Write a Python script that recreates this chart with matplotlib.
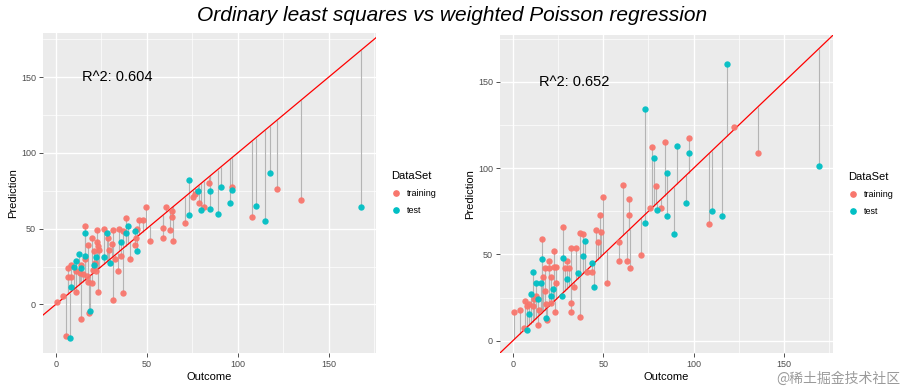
import numpy as np
import matplotlib.pyplot as plt
from matplotlib.lines import Line2D

plt.rcParams['font.family'] = ['Liberation Sans', 'DejaVu Sans']

RED = '#F8766D'
TEAL = '#00BFC4'

# Ordinary least squares (left panel)
ols_train_x = [0.9, 3.9, 5.9, 6.8, 6.8, 8.6, 8.6, 11, 11.4, 13.2, 13.8, 14, 15, 16, 16, 17,
               17.8, 17.8, 18.4, 19.9, 19.9, 20.6, 21, 21.5, 22.8, 22.8, 23, 23, 22.4, 23.9,
               26.7, 28.9, 29.4, 31, 31.6, 31.6, 32.5, 34, 35, 36, 36.8, 37, 38.6, 41, 43.8,
               44, 44.8, 46, 48, 49.6, 51.8, 58.8, 58.8, 60.7, 63, 63.8, 63.8, 64.7, 70.8,
               75.7, 76.6, 78.9, 81.6, 84, 96.7, 108, 121.7, 135]
ols_train_pred = [1.3, 5.7, -20.6, 24, 17.8, 17.8, 26, 7.9, 22, 21, -9.6, 26, 20, 52, 30, 19,
                  39, 15, -5.7, 14, 44, 23, 35, 27.6, 49, 41, 38.6, 8.3, 22, 36,
                  50, 44, 36, 40, 49, 3, 30, 22, 50, 32, 7.7, 48.7, 57, 30, 39,
                  44, 50, 56, 56, 64, 41.7, 50.4, 44, 64, 49, 61.6, 58, 42, 54,
                  71, 72.6, 67, 64, 80, 77.6, 58, 76, 69]
ols_test_x = [7.7, 8.6, 9.9, 11, 12.9, 14, 16, 16, 18.8, 21, 21.9, 26.8, 28, 29.8, 35.8, 38.6,
              39.9, 43.8, 44.5, 73, 73, 78, 80, 85, 85, 89, 91, 96, 96.7, 110, 115, 118, 168]
ols_test_pred = [-22, 11.6, 24.8, 28.7, 33.3, 24.3, 47, 32, -4.4, 26, 31.4, 31, 47, 27.6, 41, 47,
                 52, 48.7, 35.3, 82, 59, 75, 62, 74.6, 63, 60, 77.6, 67, 75.7, 65, 55, 87, 64.5]

# Weighted Poisson regression (right panel)
pois_train_x = [1, 4, 6, 7, 7.7, 9, 11, 12, 13, 13.8, 14.8, 16, 17, 18, 18, 18.5, 18.8, 20,
                20.3, 21, 21.4, 23, 23, 23.2, 24, 24, 28, 29, 30, 31, 32, 32, 32, 34, 35, 37,
                37, 39, 41, 44, 46, 47, 48, 49, 50, 52, 59, 59, 61, 63, 64, 64, 65, 71, 76,
                77, 79, 82, 84, 97.4, 108.5, 122.5, 135.6]
pois_train_pred = [16.5, 18, 7.5, 23, 20, 21.5, 20, 24, 26, 9.4, 17.7, 59, 37, 42, 29, 21.5, 12.3, 46,
                   42, 37, 22, 52, 43, 16.5, 43, 33.5, 66, 42, 46, 42, 22, 16.5, 54, 31, 54, 14,
                   62.5, 62, 40, 40, 64, 57, 73, 63, 83, 33.5, 57, 46, 90, 46, 82, 72.7, 42, 49.6, 77,
                   112, 89.6, 77, 115, 117.5, 67.7, 123.6, 109]
pois_test_x = [7.7, 8.9, 10, 11, 12.9, 13.8, 15.7, 16, 18.5, 21, 22, 27, 28, 30, 36, 39, 40, 44,
               45, 73, 73, 78, 80, 85, 85, 89, 91, 96, 97.4, 110, 115.5, 118.5, 169]
pois_test_pred = [6, 15.8, 27, 39.6, 33.7, 24, 33.7, 47.5, 13, 25.8, 30, 26, 48, 35.6, 39.4, 49.4,
                  57.7, 45, 31, 134, 68, 106, 76, 97, 72.5, 62, 113, 80, 109, 75, 72, 160, 101]

panels = [
    (ols_train_x, ols_train_pred, ols_test_x, ols_test_pred, 'R^2: 0.604', (-7, 176), (-32, 179)),
    (pois_train_x, pois_train_pred, pois_test_x, pois_test_pred, 'R^2: 0.652', (-7, 177), (-7, 177)),
]

fig = plt.figure(figsize=(9.05, 3.9), dpi=100)
rects = [[0.0475, 0.095, 0.368, 0.82], [0.5525, 0.095, 0.368, 0.815]]

for rect, (trx, trp, tex, tep, r2, xl, yl) in zip(rects, panels):
    ax = fig.add_axes(rect)
    ax.set_facecolor('#EBEBEB')
    for s in ax.spines.values():
        s.set_visible(False)
    ax.set_xlim(xl)
    ax.set_ylim(yl)
    ax.set_xticks([0, 50, 100, 150])
    ax.set_yticks([0, 50, 100, 150])
    ax.set_xticks([25, 75, 125, 175], minor=True)
    ax.set_yticks([25, 75, 125, 175], minor=True)
    ax.grid(which='major', color='white', linewidth=1.0)
    ax.grid(which='minor', color='white', linewidth=0.5)
    ax.set_axisbelow(True)
    ax.tick_params(which='major', length=3, color='#333333', width=0.6,
                   labelsize=6.5, labelcolor='#4D4D4D', pad=2)
    ax.tick_params(which='minor', length=0)

    allx = list(trx) + list(tex)
    allp = list(trp) + list(tep)
    ax.vlines(allx, allp, allx, color='#B4B4B4', linewidth=0.8, zorder=2)
    ax.plot([-10, 200], [-10, 200], color='red', linewidth=0.9, zorder=3)
    ax.scatter(trx, trp, s=21, color=RED, zorder=4, linewidths=0, alpha=0.95)
    ax.scatter(tex, tep, s=21, color=TEAL, zorder=4, linewidths=0, alpha=0.95)

    ax.text(34, 150, r2, ha='center', va='center', fontsize=10.5)
    ax.set_xlabel('Outcome', fontsize=8, labelpad=2)
    ax.set_ylabel('Prediction', fontsize=8, labelpad=2)

    handles = [Line2D([], [], marker='o', linestyle='', color=RED, markersize=3.8),
               Line2D([], [], marker='o', linestyle='', color=TEAL, markersize=3.8)]
    leg = ax.legend(handles, ['training', 'test'], title='DataSet', loc='center left',
                    bbox_to_anchor=(1.02, 0.5), frameon=False, fontsize=6.5,
                    title_fontsize=8, alignment='left', handlelength=1.2,
                    handletextpad=0.6, labelspacing=0.9)

fig.suptitle('Ordinary least squares vs weighted Poisson regression',
             fontsize=15, style='italic', y=0.985)
fig.text(0.995, 0.01, '@稀土掘金技术社区', ha='right', va='bottom', fontsize=10,
         color='#9A9A9A', family=['Noto Sans CJK SC', 'DejaVu Sans'])

fig.savefig('out.png', dpi=100)
